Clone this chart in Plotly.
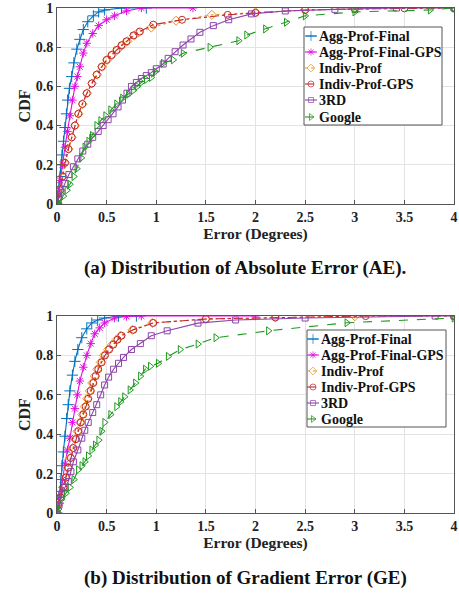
import plotly.graph_objects as go

# ---------------- (a) Absolute Error ----------------
ae_agg_final_x = [0, 0.01, 0.02, 0.03, 0.04, 0.05, 0.065, 0.08, 0.095, 0.107, 0.125, 0.148, 0.17, 0.2, 0.23, 0.265, 0.31, 0.366, 0.42, 0.48, 0.65, 0.9]
ae_agg_final_y = [0, 0.04, 0.09, 0.14, 0.2, 0.25, 0.32, 0.39, 0.46, 0.53, 0.59, 0.65, 0.72, 0.79, 0.84, 0.89, 0.93, 0.96, 0.98, 0.99, 1.0, 1.0]

ae_agg_gps_x = [0, 0.015, 0.03, 0.055, 0.08, 0.105, 0.13, 0.155, 0.18, 0.205, 0.23, 0.265, 0.3, 0.36, 0.42, 0.5, 0.58, 0.7, 0.85, 1.37]
ae_agg_gps_y = [0, 0.06, 0.12, 0.2, 0.29, 0.37, 0.45, 0.53, 0.6, 0.65, 0.7, 0.77, 0.82, 0.87, 0.91, 0.94, 0.96, 0.985, 1.0, 1.0]

ae_indiv_x = [0, 0.012, 0.032, 0.057, 0.082, 0.117, 0.15, 0.182, 0.217, 0.258, 0.303, 0.353, 0.405, 0.455, 0.505, 0.555, 0.61, 0.66, 0.71, 0.78, 0.82, 0.95, 1.2, 1.56, 2.0, 2.5, 3.0, 4.0]
ae_indiv_y = [0, 0.03, 0.07, 0.14, 0.21, 0.28, 0.34, 0.4, 0.46, 0.51, 0.565, 0.615, 0.66, 0.7, 0.735, 0.76, 0.786, 0.81, 0.83, 0.86, 0.875, 0.9, 0.935, 0.965, 0.978, 0.99, 0.995, 1.0]

ae_indiv_gps_x = [0, 0.01, 0.03, 0.055, 0.08, 0.115, 0.148, 0.18, 0.215, 0.255, 0.3, 0.35, 0.4, 0.45, 0.5, 0.55, 0.6, 0.65, 0.7, 0.77, 0.835, 0.97, 1.26, 1.72, 2.0, 2.5, 3.0, 3.5, 4.0]
ae_indiv_gps_y = [0, 0.03, 0.07, 0.14, 0.21, 0.28, 0.34, 0.4, 0.46, 0.51, 0.565, 0.615, 0.66, 0.7, 0.735, 0.76, 0.786, 0.81, 0.83, 0.86, 0.88, 0.915, 0.94, 0.965, 0.975, 0.99, 0.995, 0.998, 1.0]

ae_3rd_x = [0, 0.013, 0.04, 0.08, 0.12, 0.165, 0.21, 0.26, 0.31, 0.36, 0.415, 0.465, 0.515, 0.565, 0.615, 0.66, 0.705, 0.75, 0.8, 0.85, 0.9, 0.95, 1.0, 1.07, 1.12, 1.19, 1.27, 1.35, 1.44, 1.575, 1.73, 1.96, 2.3, 2.8, 3.42, 4.0]
ae_3rd_y = [0, 0.02, 0.06, 0.105, 0.15, 0.19, 0.23, 0.27, 0.305, 0.34, 0.37, 0.4, 0.43, 0.46, 0.495, 0.53, 0.565, 0.6, 0.62, 0.64, 0.655, 0.67, 0.69, 0.714, 0.743, 0.777, 0.811, 0.842, 0.876, 0.91, 0.94, 0.97, 0.985, 0.993, 1.0, 1.0]

ae_google_x = [0, 0.013, 0.064, 0.1, 0.13, 0.17, 0.2, 0.245, 0.28, 0.32, 0.355, 0.4, 0.44, 0.49, 0.54, 0.6, 0.66, 0.72, 0.77, 0.81, 0.85, 0.9, 0.95, 0.99, 1.07, 1.17, 1.27, 1.54, 1.83, 1.91, 2.1, 2.31, 2.5, 3.0, 3.76, 4.0]
ae_google_y = [0, 0.003, 0.04, 0.07, 0.1, 0.14, 0.18, 0.235, 0.29, 0.32, 0.35, 0.4, 0.425, 0.45, 0.48, 0.51, 0.54, 0.56, 0.58, 0.6, 0.62, 0.635, 0.646, 0.675, 0.718, 0.735, 0.769, 0.8, 0.833, 0.862, 0.893, 0.927, 0.96, 0.98, 0.99, 1.0]

# ---------------- (b) Gradient Error ----------------
ge_agg_final_x = [0, 0.015, 0.03, 0.04, 0.05, 0.064, 0.08, 0.097, 0.113, 0.13, 0.155, 0.18, 0.21, 0.25, 0.3, 0.35, 0.41, 0.48, 0.62, 0.8]
ge_agg_final_y = [0, 0.05, 0.11, 0.17, 0.24, 0.31, 0.39, 0.48, 0.55, 0.62, 0.7, 0.77, 0.83, 0.89, 0.935, 0.965, 0.98, 0.99, 1.0, 1.0]

ge_agg_gps_x = [0, 0.015, 0.03, 0.055, 0.08, 0.105, 0.13, 0.155, 0.18, 0.205, 0.23, 0.265, 0.3, 0.34, 0.38, 0.43, 0.48, 0.58, 0.7, 0.85, 2.0]
ge_agg_gps_y = [0, 0.04, 0.08, 0.17, 0.25, 0.32, 0.38, 0.46, 0.53, 0.6, 0.67, 0.74, 0.8, 0.86, 0.91, 0.94, 0.965, 0.99, 0.998, 1.0, 1.0]

ge_indiv_x = [0, 0.008, 0.032, 0.06, 0.085, 0.108, 0.133, 0.157, 0.182, 0.206, 0.23, 0.255, 0.28, 0.305, 0.33, 0.355, 0.38, 0.405, 0.44, 0.472, 0.515, 0.557, 0.6, 0.64, 0.76, 0.96, 1.5, 2.2, 3.0, 4.0]
ge_indiv_y = [0, 0.04, 0.08, 0.13, 0.18, 0.23, 0.28, 0.33, 0.375, 0.415, 0.46, 0.5, 0.54, 0.58, 0.62, 0.66, 0.695, 0.73, 0.765, 0.8, 0.83, 0.855, 0.88, 0.9, 0.93, 0.965, 0.985, 0.993, 0.999, 1.0]

ge_indiv_gps_x = [0, 0.01, 0.035, 0.064, 0.09, 0.114, 0.14, 0.165, 0.19, 0.215, 0.24, 0.265, 0.29, 0.315, 0.34, 0.366, 0.39, 0.416, 0.45, 0.483, 0.525, 0.567, 0.61, 0.65, 0.77, 0.97, 1.5, 2.2, 3.11, 4.0]
ge_indiv_gps_y = [0, 0.04, 0.08, 0.13, 0.18, 0.23, 0.28, 0.33, 0.375, 0.415, 0.46, 0.5, 0.54, 0.58, 0.62, 0.66, 0.695, 0.73, 0.765, 0.8, 0.83, 0.855, 0.88, 0.9, 0.93, 0.965, 0.985, 0.993, 1.0, 1.0]

ge_3rd_x = [0, 0.02, 0.047, 0.08, 0.114, 0.14, 0.165, 0.21, 0.25, 0.28, 0.315, 0.36, 0.4, 0.44, 0.48, 0.52, 0.57, 0.62, 0.67, 0.75, 0.84, 0.95, 1.11, 1.42, 1.8, 2.5, 3.81, 4.0]
ge_3rd_y = [0, 0.04, 0.095, 0.13, 0.16, 0.21, 0.26, 0.32, 0.38, 0.42, 0.46, 0.51, 0.55, 0.6, 0.65, 0.69, 0.73, 0.76, 0.79, 0.83, 0.86, 0.9, 0.925, 0.964, 0.98, 0.99, 1.0, 1.0]

ge_google_x = [0, 0.015, 0.047, 0.09, 0.13, 0.17, 0.215, 0.25, 0.28, 0.315, 0.35, 0.385, 0.42, 0.45, 0.48, 0.54, 0.6, 0.64, 0.68, 0.735, 0.79, 0.84, 0.89, 0.94, 1.02, 1.12, 1.24, 1.42, 1.6, 2.13, 2.92, 4.0]
ge_google_y = [0, 0.02, 0.07, 0.1, 0.13, 0.17, 0.22, 0.24, 0.26, 0.29, 0.32, 0.345, 0.37, 0.415, 0.46, 0.5, 0.54, 0.565, 0.59, 0.625, 0.66, 0.695, 0.73, 0.745, 0.76, 0.795, 0.83, 0.858, 0.89, 0.925, 0.966, 0.99]

series_names = ["Agg-Prof-Final", "Agg-Prof-Final-GPS", "Indiv-Prof", "Indiv-Prof-GPS", "3RD", "Google"]

x_ticks = [0, 0.5, 1, 1.5, 2, 2.5, 3, 3.5, 4]
x_tick_labels = ["0", "0.5", "1", "1.5", "2", "2.5", "3", "3.5", "4"]
y_ticks = [0, 0.2, 0.4, 0.6, 0.8, 1]
y_tick_labels = ["0", "0.2", "0.4", "0.6", "0.8", "1"]

styles = [
    dict(color="#0072BD", dash="solid", symbol="cross-thin-open", size=8),
    dict(color="#E010E0", dash="solid", symbol="asterisk-open", size=7),
    dict(color="#F0921E", dash="dot", symbol="diamond-open", size=7),
    dict(color="#C0282D", dash="dashdot", symbol="circle-open", size=7),
    dict(color="#8E44AD", dash="solid", symbol="square-open", size=6),
    dict(color="#1E9A1E", dash="dash", symbol="triangle-right-open", size=7),
]

panel_a = [(ae_agg_final_x, ae_agg_final_y), (ae_agg_gps_x, ae_agg_gps_y), (ae_indiv_x, ae_indiv_y),
           (ae_indiv_gps_x, ae_indiv_gps_y), (ae_3rd_x, ae_3rd_y), (ae_google_x, ae_google_y)]
panel_b = [(ge_agg_final_x, ge_agg_final_y), (ge_agg_gps_x, ge_agg_gps_y), (ge_indiv_x, ge_indiv_y),
           (ge_indiv_gps_x, ge_indiv_gps_y), (ge_3rd_x, ge_3rd_y), (ge_google_x, ge_google_y)]

fig = go.Figure()
for panel, xa, ya in [(panel_a, "x", "y"), (panel_b, "x2", "y2")]:
    for name, (xs, ys), st in zip(series_names, panel, styles):
        fig.add_trace(go.Scatter(
            x=xs, y=ys, name=name, mode="lines+markers", xaxis=xa, yaxis=ya, showlegend=False,
            line=dict(color=st["color"], width=1.1, dash=st["dash"]),
            marker=dict(symbol=st["symbol"], size=st["size"], color=st["color"],
                        line=dict(width=1.0, color=st["color"])),
        ))

serif = "Liberation Serif"
tickfont = dict(family=serif, size=14, color="#222222")
titlefont = dict(family=serif, size=15.5, color="#222222")

def bold(lst):
    return ["<b>" + s + "</b>" for s in lst]

def xaxis_cfg(anchor):
    return dict(range=[0, 4], tickvals=x_ticks, ticktext=bold(x_tick_labels), tickfont=tickfont,
                showgrid=True, gridcolor="#E3E3E3", gridwidth=1, zeroline=False,
                showline=True, linecolor="#555555", linewidth=1, mirror=True, automargin=False,
                ticks="inside", ticklen=4, tickcolor="#555555", anchor=anchor,
                title=dict(text="<b>Error (Degrees)</b>", font=titlefont, standoff=3))

def yaxis_cfg(anchor, domain):
    return dict(range=[0, 1], tickvals=y_ticks, ticktext=bold(y_tick_labels), tickfont=tickfont,
                showgrid=True, gridcolor="#E3E3E3", gridwidth=1, zeroline=False,
                showline=True, linecolor="#555555", linewidth=1, mirror=True, automargin=False,
                ticks="inside", ticklen=4, tickcolor="#555555", anchor=anchor, domain=domain,
                title=dict(text="<b>CDF</b>", font=dict(family=serif, size=16, color="#222222"), standoff=1))

# ----- hand-drawn legends on an overlay axis measured in page pixels -----
# page pixel frame of the plotting area: x 57..454, y 8..513
legend_boxes = [dict(x0=304, x1=442, y0=27, y1=125, rows=[36, 52, 68, 84, 100, 117], sym_x=311, txt_x=317),
                dict(x0=307, x1=446, y0=330, y1=427, rows=[339, 355, 371, 387, 403, 419], sym_x=313, txt_x=319)]

shapes = []
annotations = []
for box in legend_boxes:
    shapes.append(dict(type="rect", xref="x3", yref="y3", x0=box["x0"], x1=box["x1"],
                       y0=box["y0"], y1=box["y1"], fillcolor="white",
                       line=dict(color="#555555", width=1), layer="between"))
    for row_y, name, st in zip(box["rows"], series_names, styles):
        fig.add_trace(go.Scatter(
            x=[box["sym_x"] - 6, box["sym_x"], box["sym_x"] + 6], y=[row_y, row_y, row_y],
            mode="lines+markers", xaxis="x3", yaxis="y3", showlegend=False, hoverinfo="skip",
            cliponaxis=False,
            line=dict(color=st["color"], width=1.1, dash=st["dash"]),
            marker=dict(symbol=st["symbol"], size=[0, st["size"] - 1, 0], color=st["color"],
                        line=dict(width=1.0, color=st["color"])),
        ))
        annotations.append(dict(text="<b>" + name + "</b>", x=box["txt_x"], y=row_y, xref="x3", yref="y3",
                                showarrow=False, xanchor="left", yanchor="middle",
                                font=dict(family=serif, size=14, color="#111111")))

annotations += [
    dict(text="<b>(a) Distribution of Absolute Error (AE).</b>", x=0.474, y=0.485,
         xref="paper", yref="paper", showarrow=False, xanchor="center", yanchor="middle",
         font=dict(family=serif, size=19, color="#111111")),
    dict(text="<b>(b) Distribution of Gradient Error (GE)</b>", x=0.474, y=-0.129,
         xref="paper", yref="paper", showarrow=False, xanchor="center", yanchor="middle",
         font=dict(family=serif, size=19, color="#111111")),
]

fig.update_layout(
    width=459, height=598,
    margin=dict(l=57, r=5, t=8, b=85),
    paper_bgcolor="white", plot_bgcolor="rgba(0,0,0,0)",
    font=dict(family=serif),
    xaxis=xaxis_cfg("y"), yaxis=yaxis_cfg("x", [0.612, 1.0]),
    xaxis2=xaxis_cfg("y2"), yaxis2=yaxis_cfg("x2", [0.0, 0.390]),
    xaxis3=dict(domain=[0, 1], range=[57, 454], visible=False, anchor="y3", fixedrange=True),
    yaxis3=dict(domain=[0, 1], range=[513, 8], visible=False, anchor="x3", fixedrange=True),
    shapes=shapes,
    annotations=annotations,
)

fig.write_html("out.html", config={"displayModeBar": False},
               post_script="document.body.style.margin='0';document.body.style.padding='0';"
                           "document.body.style.overflow='hidden';")
